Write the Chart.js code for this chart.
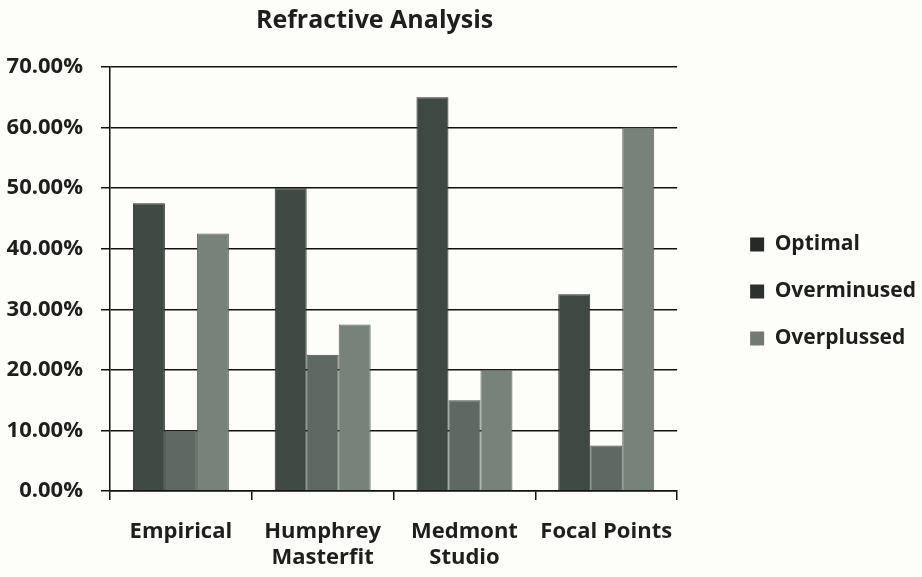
<!DOCTYPE html>
<html>
<head>
<meta charset="utf-8">
<script src="https://cdn.jsdelivr.net/npm/chart.js@4"></script>
<style>
  html, body { margin: 0; padding: 0; background: #fdfdf9; }
  #wrap { width: 922px; height: 577px; }
</style>
</head>
<body>
<div id="wrap"><canvas id="chart"></canvas></div>
<script>
// Refractive analysis, share of eyes per method (percent)
const categories = ['Empirical', ['Humphrey', 'Masterfit'], ['Medmont', 'Studio'], 'Focal Points'];
const optimal = [47.5, 50, 65, 32.5];
const overminused = [10, 22.5, 15, 7.5];
const overplussed = [42.5, 27.5, 20, 60];
const yTicks = [0, 10, 20, 30, 40, 50, 60, 70];
// legend swatches print darker than the bars in the scan
const swatches = ['#252a27', '#2b312d', '#6f7a73'];

const font = "'Open Sans', sans-serif";

// nudge legend right (gap from plot) and title left, after layout
const shiftBoxes = {
  id: 'shiftBoxes',
  afterLayout(chart) {
    const lg = chart.legend;
    lg.left += 47; lg.right += 47;
    const t = chart.titleBlock;
    if (t) { t.left -= 19; t.right -= 19; }
  },
};

new Chart(document.getElementById('chart'), {
  type: 'bar',
  data: {
    labels: categories,
    datasets: [
      { label: 'Optimal', data: optimal, backgroundColor: '#3f4944', borderColor: '#2a322e', borderWidth: 1 },
      { label: 'Overminused', data: overminused, backgroundColor: '#5f6963', borderColor: '#444d48', borderWidth: 1 },
      { label: 'Overplussed', data: overplussed, backgroundColor: '#77827b', borderColor: '#59635d', borderWidth: 1 },
    ],
  },
  plugins: [shiftBoxes],
  options: {
    responsive: true,
    maintainAspectRatio: false,
    animation: false,
    layout: { padding: { left: 6, right: 43, top: 6, bottom: 0 } },
    datasets: { bar: { barPercentage: 1, categoryPercentage: 0.677 } },
    plugins: {
      title: {
        display: true,
        fullSize: false,
        text: 'Refractive Analysis',
        color: '#1e1e1e',
        font: { family: font, size: 25, weight: 'bold' },
        padding: { top: 0, bottom: 31 },
      },
      legend: {
        position: 'right',
        labels: {
          color: '#1e1e1e',
          font: { family: font, size: 21, weight: 'bold' },
          boxWidth: 14,
          boxHeight: 14,
          padding: 26,
          generateLabels: chart => chart.data.datasets.map((ds, i) => ({
            text: ds.label,
            fillStyle: swatches[i],
            strokeStyle: swatches[i],
            lineWidth: 0,
            fontColor: '#1e1e1e',
            datasetIndex: i,
          })),
        },
      },
      tooltip: { enabled: false },
    },
    scales: {
      y: {
        min: 0, max: 70,
        afterBuildTicks: axis => { axis.ticks = yTicks.map(v => ({ value: v })); },
        afterFit: s => { s.width = 104; },
        ticks: {
          color: '#1e1e1e',
          font: { family: font, size: 22, weight: 'bold' },
          padding: 18,
          callback: v => v.toFixed(2) + '%',
        },
        grid: { color: '#111', lineWidth: 1.5, tickLength: 9 },
        border: { color: '#111', width: 1.5 },
      },
      x: {
        afterFit: s => { s.height = 86; },
        ticks: {
          color: '#1e1e1e',
          font: { family: font, size: 22, weight: 'bold', lineHeight: 1.18 },
          padding: 19,
        },
        grid: { drawOnChartArea: false, color: '#111', lineWidth: 1.5, tickLength: 9 },
        border: { color: '#111', width: 1.5 },
      },
    },
  },
});
</script>
</body>
</html>
